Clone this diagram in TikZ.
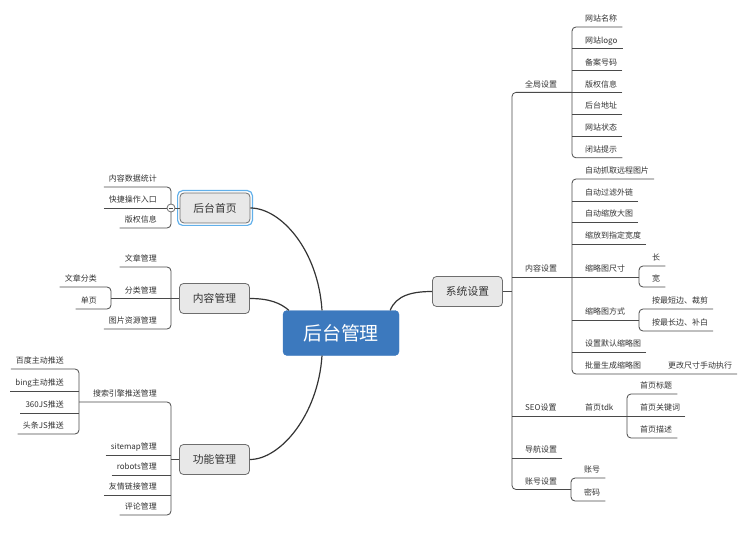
\documentclass[tikz,border=0pt]{standalone}
\usepackage{fontspec}
\setmainfont{Noto Sans CJK SC}
\usetikzlibrary{shapes,arrows}

\definecolor{rootblue}{HTML}{3C79BE}
\definecolor{topicgray}{HTML}{E8E8E8}
\definecolor{edgegray}{HTML}{6E6E6E}
\definecolor{linegray}{HTML}{4A4A4A}
\definecolor{selblue}{HTML}{62B0EA}
\definecolor{txtgray}{HTML}{333333}

\begin{document}
\begin{tikzpicture}[
  x=1bp, y=-1bp,
  root/.style={
    draw=rootblue, fill=rootblue, rounded corners=4bp,
    minimum width=116bp, minimum height=45bp,
    text=white, font=\fontsize{19}{22}\selectfont},
  topic/.style={
    draw=edgegray, fill=topicgray, rounded corners=4bp, line width=0.8bp,
    minimum width=70bp, minimum height=30bp,
    text=txtgray, font=\fontsize{10.8}{13}\selectfont},
  leaf/.style={
    inner xsep=5bp, inner ysep=0pt,
    text height=8bp, text depth=5bp,
    anchor=south west, text=txtgray,
    font=\fontsize{8}{10}\selectfont},
  leafl/.style={leaf, anchor=south east},
  branch/.style={draw=linegray, line width=0.8bp},
  bracket/.style={branch, rounded corners=4bp},
  maincurve/.style={draw=linegray!70!black, line width=1.2bp},
  selbox/.style={draw=selblue, line width=1.2bp, rounded corners=5bp},
  fold/.style={circle, draw=edgegray, fill=white, inner sep=0pt,
    minimum size=8bp, line width=0.8bp}
  ]
\useasboundingbox (0,0) rectangle (750,535);

% central topic and main topics
\node[root] (m) at (341,333) {后台管理};
\node[topic] (h) at (215,208) {后台首页};
\node[topic] (n) at (214.5,298.5) {内容管理};
\node[topic] (f) at (214.5,459.5) {功能管理};
\node[topic] (s) at (467.5,291.5) {系统设置};
\draw[selbox] ([xshift=-2bp,yshift=2bp]h.north west) rectangle ([xshift=2bp,yshift=-2bp]h.south east);

\draw[maincurve] ([xshift=-19bp]m.north) .. controls +(-4,-61) and +(30,0) .. (h.east);
\draw[maincurve] (n.east) .. controls +(20,0) and +(-8,-7) .. ([xshift=6bp]m.north west);
\draw[maincurve] ([xshift=-19bp]m.south) .. controls +(-4,60) and +(30,0) .. (f.east);
\draw[maincurve] ([xshift=-9bp]m.north east) .. controls +(6,-15) and +(-20,0) .. (s.west);

% junctions
\coordinate (hA) at (171,208);
\coordinate (nA) at (171,298.5);
\coordinate (nB) at (111,298.5);
\coordinate (fA) at (171,459.5);
\coordinate (fB) at (79,402);
\coordinate (t0) at (512,291.5);
\coordinate (cA) at (572,92.4);
\coordinate (cB) at (572,277);
\coordinate (cB1) at (639,277);
\coordinate (cB2) at (639,320);
\coordinate (cC) at (627,416);
\coordinate (cD) at (571,489.5);

% 后台首页
\node[leafl] (h1) at (162,187) {内容数据统计};
\node[leafl] (h2) at (162,208) {快捷操作入口};
\node[leafl] (h3) at (162,228) {版权信息};
\draw[bracket] (h1.south west) -| (hA) |- (h3.south west);
\draw[branch] (h2.south west) -- (hA);
\draw[branch] (h.west) -- (hA);
\node[fold] (hm) at (hA) {};
\draw[branch, line width=0.7bp] ([xshift=-2.3bp]hm.center) -- ([xshift=2.3bp]hm.center);

% 内容管理
\node[leafl] (n1) at (162,267) {文章管理};
\node[leafl] (n2) at (162,298.5) {分类管理};
\node[leafl] (n3) at (162,329) {图片资源管理};
\node[leafl] (n21) at (102,287) {文章分类};
\node[leafl] (n22) at (102,309) {单页};
\draw[bracket] (n1.south west) -| (nA) |- (n3.south west);
\draw[branch] (nB) -- (nA);
\draw[branch] (n.west) -- (nA);
\draw[bracket] (n21.south west) -| (nB) |- (n22.south west);

% 功能管理
\node[leafl] (f1) at (162,402) {搜索引擎推送管理};
\node[leafl] (f2) at (162,455) {sitemap管理};
\node[leafl] (f3) at (162,475) {robots管理};
\node[leafl] (f4) at (162,495) {友情链接管理};
\node[leafl] (f5) at (162,515) {评论管理};
\node[leafl] (p1) at (69,369) {百度主动推送};
\node[leafl] (p2) at (69,391) {bing主动推送};
\node[leafl] (p3) at (69,413) {360JS推送};
\node[leafl] (p4) at (69,434) {头条JS推送};
\draw[bracket] (fB) -| (fA) |- (f5.south west);
\draw[branch] (f2.south west) -- (f2.south east -| fA);
\draw[branch] (f3.south west) -- (f3.south east -| fA);
\draw[branch] (f4.south west) -- (f4.south east -| fA);
\draw[branch] (f.west) -- (fA);
\draw[bracket] (p1.south west) -| (fB) |- (p4.south west);
\draw[branch] (p2.south west) -- (p2.south east -| fB);
\draw[branch] (p3.south west) -- (p3.south east -| fB);

% 系统设置
\node[leaf] (s1) at (520,92.4) {全局设置};
\node[leaf] (s2) at (520,277) {内容设置};
\node[leaf] (s3) at (520,416) {SEO设置};
\node[leaf] (s4) at (520,458) {导航设置};
\node[leaf] (s5) at (520,489.5) {账号设置};
\draw[branch] (s.east) -- (t0);
\draw[bracket] (cA) -| (t0) |- (cD);
\draw[branch] (cB) -- (cB -| t0);
\draw[branch] (cC) -- (cC -| t0);
\draw[branch] (s4.south east) -- (s4.south west -| t0);

% 全局设置
\node[leaf] (g1) at (580,27) {网站名称};
\node[leaf] (g2) at (580,48.8) {网站logo};
\node[leaf] (g3) at (580,70.6) {备案号码};
\node[leaf] (g4) at (580,92.4) {版权信息};
\node[leaf] (g5) at (580,114.2) {后台地址};
\node[leaf] (g6) at (580,136) {网站状态};
\node[leaf] (g7) at (580,157.8) {闭站提示};
\draw[bracket] (g1.south east) -| (cA) |- (g7.south east);
\draw[branch] (g2.south east) -- (g2.south west -| cA);
\draw[branch] (g3.south east) -- (g3.south west -| cA);
\draw[branch] (g4.south east) -- (cA);
\draw[branch] (g5.south east) -- (g5.south west -| cA);
\draw[branch] (g6.south east) -- (g6.south west -| cA);

% 内容设置
\node[leaf] (b1) at (580,179) {自动抓取远程图片};
\node[leaf] (b2) at (580,201) {自动过滤外链};
\node[leaf] (b3) at (580,222) {自动缩放大图};
\node[leaf] (b4) at (580,244) {缩放到指定宽度};
\node[leaf] (b5) at (580,277) {缩略图尺寸};
\node[leaf] (b6) at (580,320) {缩略图方式};
\node[leaf] (b7) at (580,352) {设置默认缩略图};
\node[leaf] (b8) at (580,374) {批量生成缩略图};
\node[leaf] (b9) at (663,374) {更改尺寸手动执行};
\node[leaf] (l1) at (647,266) {长};
\node[leaf] (l2) at (647,287) {宽};
\node[leaf] (w1) at (647,309) {按最短边、裁剪};
\node[leaf] (w2) at (647,331) {按最长边、补白};
\draw[bracket] (b1.south east) -| (cB) |- (b9.south east);
\draw[branch] (b2.south east) -- (b2.south west -| cB);
\draw[branch] (b3.south east) -- (b3.south west -| cB);
\draw[branch] (b4.south east) -- (b4.south west -| cB);
\draw[branch] (cB1) -- (cB);
\draw[branch] (cB2) -- (cB2 -| cB);
\draw[branch] (b7.south east) -- (b7.south west -| cB);
\draw[bracket] (l1.south east) -| (cB1) |- (l2.south east);
\draw[bracket] (w1.south east) -| (cB2) |- (w2.south east);

% SEO设置
\node[leaf] (d0) at (580,416) {首页tdk};
\node[leaf] (d1) at (635,394) {首页标题};
\node[leaf] (d2) at (635,416) {首页关键词};
\node[leaf] (d3) at (635,438) {首页描述};
\draw[bracket] (d1.south east) -| (cC) |- (d3.south east);
\draw[branch] (d2.south east) -- (cC);

% 账号设置
\node[leaf] (a1) at (579,478) {账号};
\node[leaf] (a2) at (579,501) {密码};
\draw[bracket] (a1.south east) -| (cD) |- (a2.south east);
\end{tikzpicture}
\end{document}
